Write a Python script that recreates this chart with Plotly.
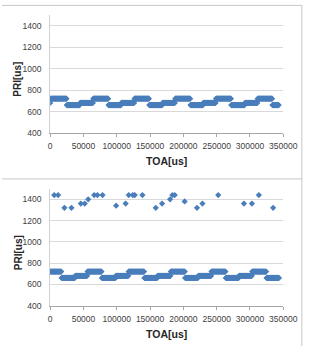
import numpy as np
import plotly.graph_objects as go

# ---- data ----
# Top chart: PRI stagger groups (PRI level in us, number of pulses in group)
top_levels = [680, 720, 660, 680, 720, 660, 680, 720, 660, 680, 720, 660, 680, 720, 660, 680, 720, 660]
top_counts = [1, 34, 30, 29, 32, 29, 29, 31, 30, 28, 32, 29, 28, 32, 31, 28, 31, 15]

# Bottom chart: main band groups
bot_levels = [720, 660, 680, 720, 660, 680, 720, 660, 680, 720, 660, 680, 720, 660, 680, 720, 660]
bot_counts = [24, 31, 27, 30, 32, 28, 33, 30, 29, 30, 30, 29, 30, 30, 29, 30, 29]

# Bottom chart: outlier points (missed pulses -> doubled PRI)
out_toa = [6100, 11900, 21400, 31900, 46100, 51900, 57100, 66100, 70900, 78600,
           99000, 113300, 118000, 124000, 127000, 138500, 158500, 168000, 180000,
           183500, 187000, 201900, 220400, 228600, 252300, 290900, 302900, 313300, 334700]
out_pri = [1440, 1440, 1320, 1320, 1360, 1360, 1400, 1440, 1440, 1440,
           1340, 1360, 1440, 1440, 1440, 1440, 1320, 1360, 1400,
           1440, 1440, 1380, 1320, 1360, 1440, 1360, 1360, 1440, 1320]

x_ticks = [0, 50000, 100000, 150000, 200000, 250000, 300000, 350000]
y_ticks = [400, 600, 800, 1000, 1200, 1400]


def expand(levels, counts):
    pri = np.repeat(np.array(levels, dtype=float), counts)
    toa = np.cumsum(pri) - pri[0]
    return toa, pri


top_toa, top_pri = expand(top_levels, top_counts)
bot_toa, bot_pri = expand(bot_levels, bot_counts)

W, H = 322, 351
BLUE = "#4A7EBB"

fig = go.Figure()
mk = dict(symbol="diamond", size=4.8, color=BLUE, line=dict(width=0))
fig.add_trace(go.Scatter(x=top_toa, y=top_pri, mode="markers", marker=mk,
                         xaxis="x", yaxis="y", showlegend=False))
fig.add_trace(go.Scatter(x=list(bot_toa) + out_toa, y=list(bot_pri) + out_pri,
                         mode="markers", marker=mk,
                         xaxis="x2", yaxis="y2", showlegend=False))

x0, x1 = 50.7, 296.0
t_top, t_bot = 15.0, 135.0
b_top, b_bot = 191.4, 310.0

def px(x):
    return x / W

def py(y):
    return 1 - y / H

tickfont = dict(family="Liberation Sans, Arial, sans-serif", size=8.5, color="#404040")
xa = dict(range=[0, 350000], tickvals=x_ticks, ticktext=[str(v) for v in x_ticks],
          showgrid=False, zeroline=False, showline=True, linecolor="#a6a6a6",
          linewidth=1, ticks="outside", ticklen=3, tickcolor="#a6a6a6",
          tickfont=tickfont, ticklabelstandoff=2,
          domain=[px(x0), px(x1)], fixedrange=True)
ya = dict(range=[400, 1500], tickvals=y_ticks, showgrid=True, gridcolor="#d9d9d9",
          gridwidth=1, zeroline=False, showline=True, linecolor="#d0d0d0",
          linewidth=1, ticks="", tickfont=tickfont, ticklabelstandoff=6,
          fixedrange=True)

fig.update_layout(
    width=W, height=H, margin=dict(l=0, r=0, t=0, b=0),
    paper_bgcolor="white", plot_bgcolor="white",
    xaxis=dict(xa, anchor="y"),
    yaxis=dict(ya, domain=[py(t_bot), py(t_top)], anchor="x"),
    xaxis2=dict(xa, anchor="y2"),
    yaxis2=dict(ya, domain=[py(b_bot), py(b_top)], anchor="x2"),
)

title_font = dict(family="Liberation Sans, Arial, sans-serif", size=10.5, color="#262626")
ann = []
for ty, pyc in [(163, 80), (339, 256)]:
    ann.append(dict(text="<b>TOA[us]</b>", x=px((x0 + x1) / 2), y=py(ty),
                    xref="paper", yref="paper", showarrow=False, font=title_font,
                    xanchor="center", yanchor="middle"))
    ann.append(dict(text="<b>PRI[us]</b>", x=px(16.7), y=py(pyc), textangle=-90,
                    xref="paper", yref="paper", showarrow=False,
                    font=dict(title_font, size=10),
                    xanchor="center", yanchor="middle"))
fig.update_layout(annotations=ann)

border = dict(color="#c8c8c8", width=1)
fig.update_layout(shapes=[
    dict(type="line", xref="paper", yref="paper", x0=0, x1=px(316), y0=py(5.5), y1=py(5.5), line=border),
    dict(type="line", xref="paper", yref="paper", x0=0, x1=px(316), y0=py(181.5), y1=py(181.5), line=border),
    dict(type="line", xref="paper", yref="paper", x0=px(315.5), x1=px(315.5), y0=py(5.5), y1=0, line=border),
])

fig.write_html("out.html")
